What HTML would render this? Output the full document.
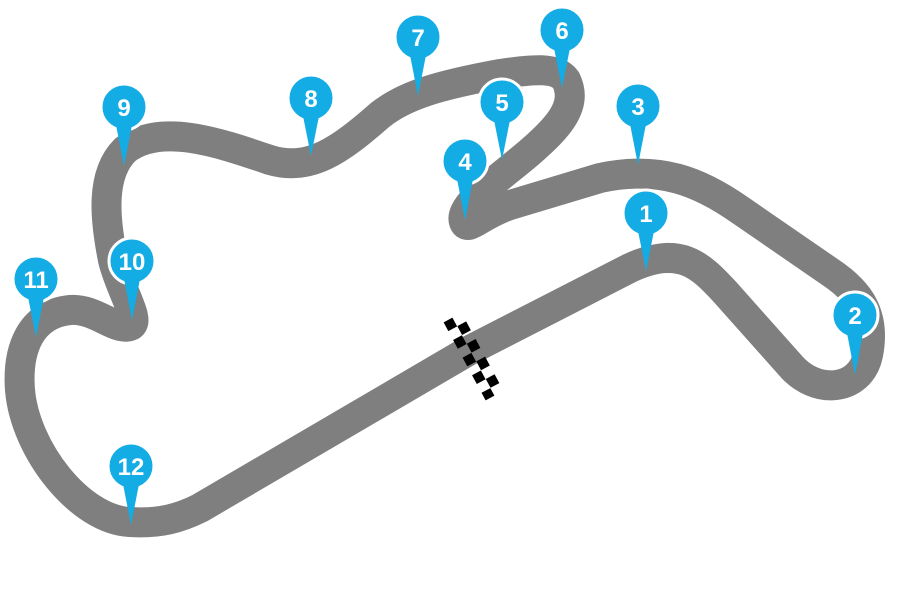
<!DOCTYPE html>
<html><head><style>
html,body{margin:0;padding:0;background:#fff;}
svg{display:block}
text{font-family:"Liberation Sans",sans-serif;font-weight:bold;font-size:24px;fill:#fff;text-anchor:middle}
</style></head><body>
<svg width="900" height="601" viewBox="0 0 900 601" xmlns="http://www.w3.org/2000/svg">
<path d="M 470 350 L 630 268 C 680 245 700 265 725 292 L 790 365 C 815 395 860 392 868 355 C 876 315 860 292 830 272 L 740 210 C 700 182 660 165 600 178 L 510 205 C 480 215 468 232 464 222 C 458 205 500 178 530 152 C 560 126 578 105 566 80 C 556 66 530 70 500 74 C 440 85 405 95 380 115 C 340 150 310 172 270 160 C 220 143 160 122 125 150 C 100 175 105 220 113 260 C 120 290 142 322 130 326 C 115 331 95 308 70 310 C 30 314 17 350 20 390 C 25 450 80 520 130 522 C 160 524 180 518 200 508 Z" fill="none" stroke="#7f7f7f" stroke-width="30" stroke-linejoin="round"/>
<g stroke="#000" stroke-width="10">
<line x1="448" y1="320" x2="490" y2="398" stroke-dasharray="10 10"/>
<line x1="457" y1="315" x2="499" y2="393" stroke-dasharray="10 10" stroke-dashoffset="10"/>
</g>
<g fill="#14ace4" stroke="#fff" stroke-width="3">
<g transform="translate(646,213)"><circle r="23"/><path d="M-8 18 L0 58 L8 18Z" stroke="none"/></g>
<g transform="translate(855,315)"><circle r="23"/><path d="M-8 18 L0 60 L8 18Z" stroke="none"/></g>
<g transform="translate(638,106)"><circle r="23"/><path d="M-8 18 L0 59 L8 18Z" stroke="none"/></g>
<g transform="translate(465,161)"><circle r="23"/><path d="M-8 18 L0 59 L8 18Z" stroke="none"/></g>
<g transform="translate(502,102)"><circle r="23"/><path d="M-8 18 L0 58 L8 18Z" stroke="none"/></g>
<g transform="translate(562,30)"><circle r="23"/><path d="M-8 18 L0 58 L8 18Z" stroke="none"/></g>
<g transform="translate(418,37)"><circle r="23"/><path d="M-8 18 L0 59 L8 18Z" stroke="none"/></g>
<g transform="translate(311,98)"><circle r="23"/><path d="M-8 18 L0 58 L8 18Z" stroke="none"/></g>
<g transform="translate(124,107)"><circle r="23"/><path d="M-8 18 L0 59 L8 18Z" stroke="none"/></g>
<g transform="translate(132,261)"><circle r="23"/><path d="M-8 18 L0 59 L8 18Z" stroke="none"/></g>
<g transform="translate(36,279)"><circle r="23"/><path d="M-8 18 L0 58 L8 18Z" stroke="none"/></g>
<g transform="translate(131,466)"><circle r="23"/><path d="M-8 18 L0 59 L8 18Z" stroke="none"/></g>
</g>
<text x="646" y="222">1</text>
<text x="855" y="324">2</text>
<text x="638" y="115">3</text>
<text x="465" y="170">4</text>
<text x="502" y="111">5</text>
<text x="562" y="39">6</text>
<text x="418" y="46">7</text>
<text x="311" y="107">8</text>
<text x="124" y="116">9</text>
<text x="132" y="270">10</text>
<text x="36" y="288">11</text>
<text x="131" y="475">12</text>
</svg>
</body></html>
